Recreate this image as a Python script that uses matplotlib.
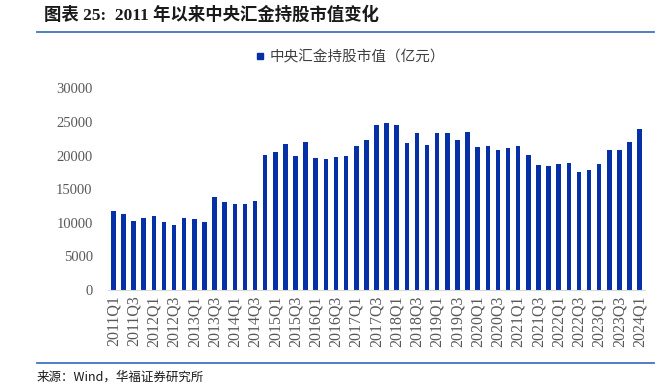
import matplotlib

matplotlib.use("Agg")
import matplotlib.pyplot as plt
import numpy as np
from matplotlib.lines import Line2D

# quarters 2011Q1 .. 2024Q1
quarters = [f"{y}Q{q}" for y in range(2011, 2025) for q in range(1, 5)][:53]

# 中央汇金持股市值（亿元）
values = [
    11750, 11360, 10270, 10710, 10960, 10170, 9670, 10660, 10510, 10120,
    13840, 13090, 12800, 12800, 13240, 20140, 20530, 21670, 19990, 22020,
    19690, 19440, 19740, 19890, 21380, 22270, 24600, 24800, 24550, 21870,
    23310, 21580, 23360, 23360, 22320, 23510, 21270, 21430, 20880, 21080,
    21430, 20090, 18600, 18400, 18800, 18950, 17510, 17810, 18700, 20780,
    20780, 21970, 24010,
]

yticks = [0, 5000, 10000, 15000, 20000, 25000, 30000]

title = "图表 25:  2011 年以来中央汇金持股市值变化"
legend_label = "中央汇金持股市值（亿元）"
source = "来源：Wind，华福证券研究所"

BAR = "#0530A6"
GREY = "#595959"
RULE = "#4472C4"

plt.rcParams["font.family"] = ["Liberation Serif", "Noto Sans CJK SC"]

fig = plt.figure(figsize=(6.72, 3.91), dpi=100)
ax = fig.add_axes([0.1607, 0.2583, 0.7991, 0.5159])

x = np.arange(len(values))
ax.bar(x, values, width=0.45, color=BAR)
ax.set_xlim(-0.53, len(values) - 0.47)
ax.set_ylim(0, 30000)

ax.set_yticks(yticks)
ax.set_yticklabels([str(v) for v in yticks], fontsize=10.5, color=GREY)
ax.set_xticks(x[::2])
ax.set_xticklabels(quarters[::2], rotation=90, fontsize=11.5, color=GREY)
ax.tick_params(axis="both", length=0, pad=4)
ax.tick_params(axis="y", pad=11)

for s in ["top", "right", "left"]:
    ax.spines[s].set_visible(False)
ax.spines["bottom"].set_color("#D9D9D9")

handle = Line2D([], [], marker="s", linestyle="none", color=BAR, markersize=5)
fig.legend([handle], [legend_label], loc="center", bbox_to_anchor=(0.52, 0.853),
           frameon=False, prop={"family": "Noto Sans CJK SC", "size": 10.5},
           labelcolor="#404040", handletextpad=0.3, handlelength=0.8)

fig.text(0.066, 0.962, title, fontsize=12.5, fontweight="bold",
         ha="left", va="center", color="#1a1a1a")
fig.add_artist(Line2D([0.055, 0.973], [0.918, 0.918], color=RULE, linewidth=1.3))
fig.add_artist(Line2D([0.055, 0.973], [0.0716, 0.0716], color=RULE, linewidth=1.3))
fig.text(0.055, 0.036, source, fontsize=9, family="Noto Sans CJK SC",
         ha="left", va="center", color="#1a1a1a")

fig.savefig("out.png", dpi=100)
